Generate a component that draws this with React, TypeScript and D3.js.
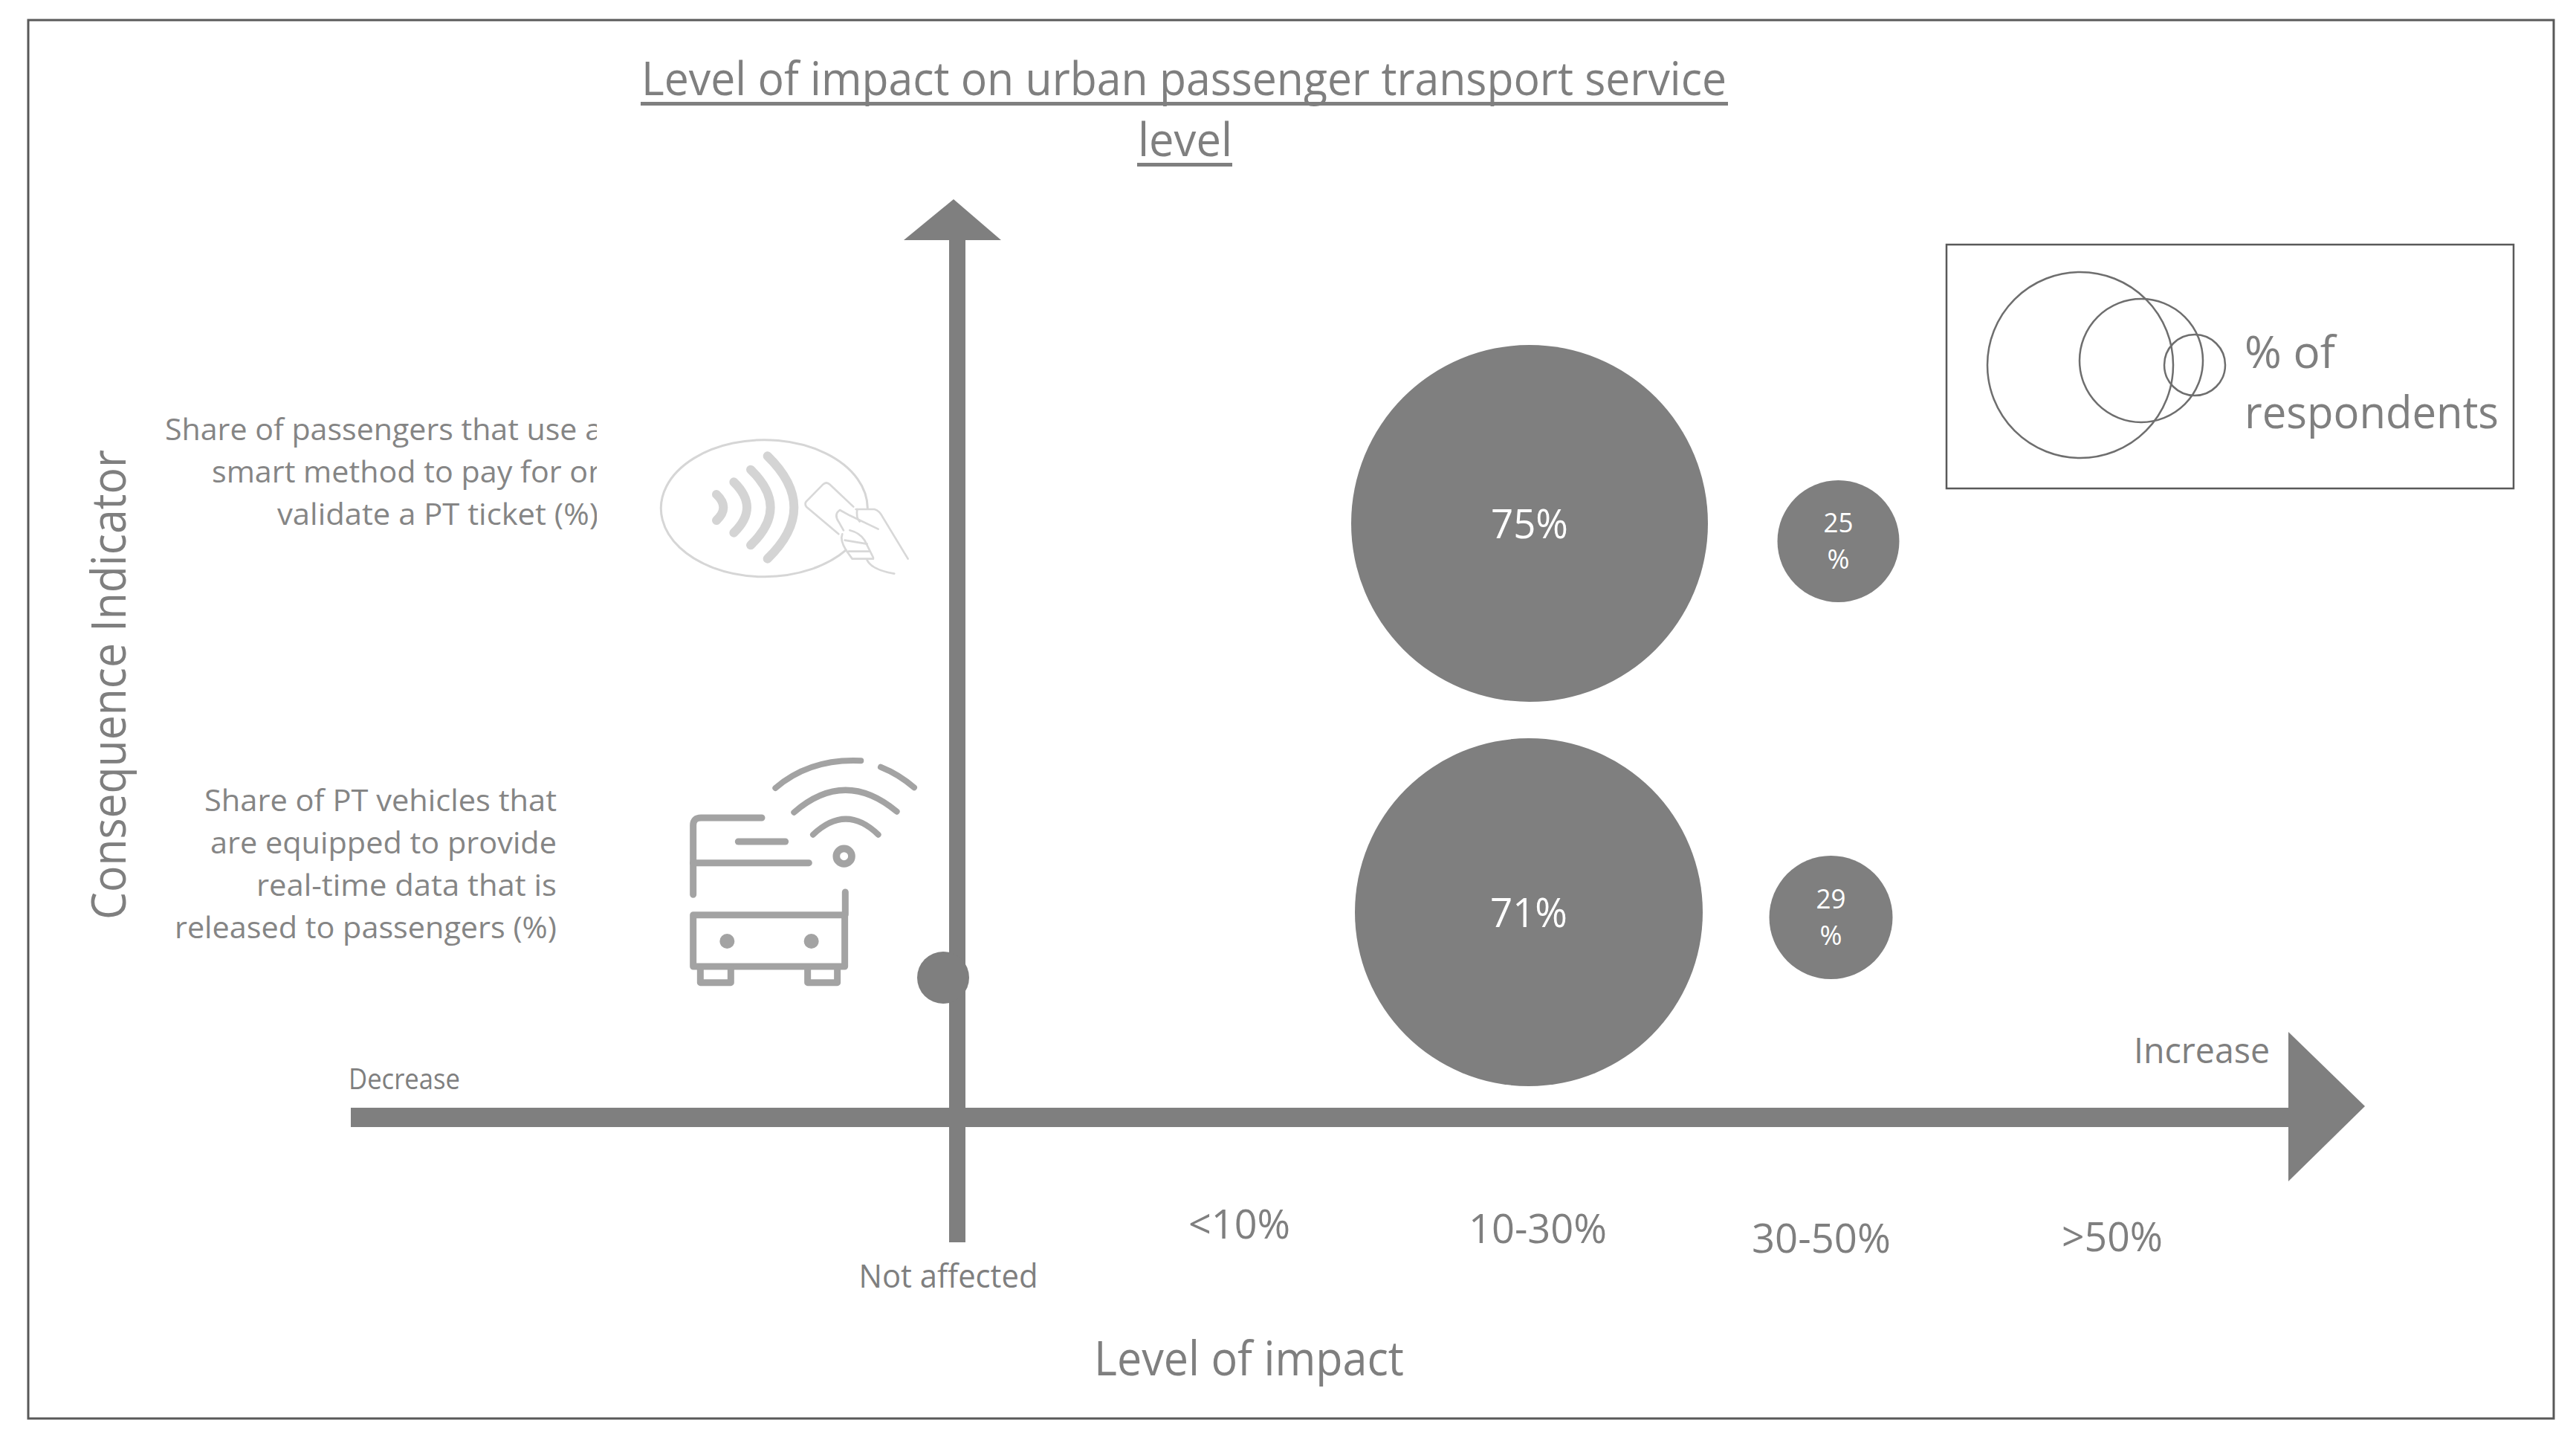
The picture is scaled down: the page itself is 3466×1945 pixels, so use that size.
import React, { useEffect, useRef } from 'react';
import * as d3 from 'd3';

const impactLevels = ['Not affected', '<10%', '10-30%', '30-50%', '>50%'];
const indicators = ['Smart payment', 'Real-time data'];

// share of respondents per impact level, null = no bubble
const smartPaymentShares = [null, null, 75, 25, null];
const realTimeDataShares = [0, null, 71, 29, null];

const smartPaymentLabel = ['Share of passengers that use a', 'smart method to pay for or', 'validate a PT ticket (%)'];
const realTimeDataLabel = ['Share of PT vehicles that', 'are equipped to provide', 'real-time data that is', 'released to passengers (%)'];
const titleLines = ['Level of impact on urban passenger transport service', 'level'];
const legendLines = ['% of', 'respondents'];

const W = 3466;
const H = 1945;
const GREY = '#7f7f7f';
const DARK = '#595959';
const FONT = '"Open Sans", sans-serif';

type Opts = { x: number; y: number; size: number; len?: number; anchor?: string; fill?: string };

function addText(g: any, str: string, o: Opts) {
  const t = g.append('text')
    .attr('x', o.x)
    .attr('y', o.y)
    .attr('font-family', FONT)
    .attr('font-size', o.size)
    .attr('text-anchor', o.anchor || 'start')
    .attr('fill', o.fill || GREY)
    .text(str);
  if (o.len) t.attr('textLength', o.len).attr('lengthAdjust', 'spacingAndGlyphs');
  return t;
}

function strokePaths(g: any, paths: string[], color: string, width: number) {
  g.selectAll(null)
    .data(paths)
    .enter().append('path')
    .attr('d', (d: string) => d)
    .attr('fill', 'none')
    .attr('stroke', color)
    .attr('stroke-width', width)
    .attr('stroke-linecap', 'round')
    .attr('stroke-linejoin', 'round');
}

export default function App() {
  const svgRef = useRef<SVGSVGElement>(null);

  useEffect(() => {
    const svg = d3.select(svgRef.current);
    svg.selectAll('*').remove();

    const x = d3.scalePoint<string>().domain(impactLevels).range([1276, 2842]);
    const y = d3.scalePoint<string>().domain(indicators).range([704, 1227]);
    // bubble sizes in the source are not strictly proportional, so piecewise
    const r = d3.scaleLinear().domain([0, 25, 29, 71, 75]).range([35, 82, 83, 234, 240]);

    svg.append('rect').attr('width', W).attr('height', H).attr('fill', '#fff');

    // outer frame
    svg.append('rect')
      .attr('x', 38).attr('y', 27)
      .attr('width', 3398).attr('height', 1881)
      .attr('fill', 'none').attr('stroke', DARK).attr('stroke-width', 3);

    // title
    addText(svg, titleLines[0], { x: 863, y: 128, size: 62, len: 1460 });
    addText(svg, titleLines[1], { x: 1531, y: 210, size: 62, len: 127 });
    svg.append('rect').attr('x', 862).attr('y', 137).attr('width', 1463).attr('height', 5).attr('fill', GREY);
    svg.append('rect').attr('x', 1530).attr('y', 219).attr('width', 128).attr('height', 5).attr('fill', GREY);

    // axes
    const line = d3.line();
    const arrows = svg.append('g').attr('fill', GREY);
    arrows.append('rect').attr('x', x('Not affected')! + 1).attr('y', 320).attr('width', 22).attr('height', 1351);
    arrows.append('path').attr('d', line([[1216, 323], [1283, 268], [1347, 323]]) + 'Z');
    arrows.append('rect').attr('x', 472).attr('y', 1490).attr('width', 2610).attr('height', 26);
    arrows.append('path').attr('d', line([[3079, 1388], [3182, 1488], [3079, 1589]]) + 'Z');

    // axis labels
    addText(svg, 'Decrease', { x: 469, y: 1465, size: 38, len: 150 });
    addText(svg, 'Increase', { x: 2871, y: 1430, size: 48, len: 183 });
    addText(svg, 'Level of impact', { x: 1472, y: 1850, size: 64, len: 417 });
    addText(svg, 'Consequence Indicator', { x: 0, y: 0, size: 64, len: 632 })
      .attr('transform', 'translate(169,1237) rotate(-90)');

    // tick labels sit at slightly different heights in the source
    const tickBase = [1732, 1666, 1672, 1685, 1683];
    const tickLen = [241, 137, 186, 187, 136];
    impactLevels.forEach((d, i) => {
      addText(svg, d, {
        x: x(d)! + (d === '10-30%' ? 10 : 0),
        y: tickBase[i],
        size: i === 0 ? 44 : 54,
        len: tickLen[i],
        anchor: 'middle',
      });
    });

    // indicator labels, the first box cuts off its right edge in the source
    svg.append('clipPath').attr('id', 'labelClip')
      .append('rect').attr('x', 200).attr('y', 530).attr('width', 603).attr('height', 200);
    const label1 = svg.append('g').attr('clip-path', 'url(#labelClip)');
    const label1Base = [592, 649, 706];
    const label1Left = [222, 285, 373];
    const label1Len = [588, 523, 432];
    smartPaymentLabel.forEach((d, i) => {
      addText(label1, d, { x: label1Left[i], y: label1Base[i], size: 41, len: label1Len[i], fill: '#858585' });
    });
    const label2Base = [1091, 1148, 1205, 1262];
    const label2Left = [275, 283, 345, 235];
    realTimeDataLabel.forEach((d, i) => {
      addText(svg, d, { x: label2Left[i], y: label2Base[i], size: 41, len: 749 - label2Left[i], fill: '#858585' });
    });

    // contactless payment icon, drawn on a 3x grid
    const icon1 = svg.append('g').attr('transform', 'translate(880,570) scale(0.3333)');
    strokePaths(icon1, ['M862,340 A417,276 0 1 0 775,510'], '#d6d6d6', 9);
    strokePaths(icon1, [
      'M252,285 Q308,338 252,390',
      'M322,235 Q428,338 322,440',
      'M390,185 Q550,338 390,490',
      'M458,130 Q672,338 458,545',
    ], '#d4d4d4', 36);
    strokePaths(icon1, [
      'M745,445 L615,335 Q605,322 618,310 L682,245 Q695,232 710,245 L805,335',
      'M905,425 L790,370 L750,348 Q725,365 745,395 L765,430',
      'M815,345 L890,345 Q910,350 925,380 L1025,545',
      'M820,345 Q815,380 830,395',
      'M760,445 Q750,470 775,510 L800,545 L885,545',
      'M790,430 Q830,440 850,470 L885,540',
      'M770,470 L860,485',
      'M785,515 L870,515',
      'M860,550 Q880,590 970,605',
    ], '#d8d8d8', 8);

    // bus with wifi icon
    const icon2 = svg.append('g').attr('transform', 'translate(910,1000) scale(0.3333)');
    strokePaths(icon2, [
      'M400,180 Q540,60 745,70',
      'M825,95 Q900,125 960,178',
      'M475,278 Q680,100 890,275',
      'M552,368 Q685,242 815,368',
    ], '#a3a3a3', 24);
    strokePaths(icon2, [
      'M68,610 L68,330 Q68,300 100,300 L345,300',
      'M250,396 L440,396',
      'M68,482 L535,482',
      'M682,600 L682,690',
      'M68,692 L680,692 L680,900 L68,900 Z',
      'M97,905 L97,965 L220,965 L220,905',
      'M530,905 L530,965 L650,965 L650,905',
    ], '#a3a3a3', 27);
    icon2.append('circle').attr('cx', 677).attr('cy', 455).attr('r', 31)
      .attr('fill', 'none').attr('stroke', '#a3a3a3').attr('stroke-width', 29);
    [205, 545].forEach(cx => {
      icon2.append('circle').attr('cx', cx).attr('cy', 798).attr('r', 30).attr('fill', '#a3a3a3');
    });

    // bubbles
    const rows = [
      { key: indicators[0], shares: smartPaymentShares },
      { key: indicators[1], shares: realTimeDataShares },
    ];
    // the bubbles were placed by hand in the source, offsets from the grid in px
    const nudge: Record<string, [number, number]> = {
      'Smart payment|10-30%': [-1, 0],
      'Smart payment|30-50%': [23, 24],
      'Real-time data|Not affected': [-7, 88],
      'Real-time data|10-30%': [-2, 0],
      'Real-time data|30-50%': [13, 7],
    };
    rows.forEach(row => {
      row.shares.forEach((v, i) => {
        if (v === null) return;
        const level = impactLevels[i];
        const [dx, dy] = nudge[`${row.key}|${level}`];
        const cx = x(level)! + dx;
        const cy = y(row.key)! + dy;
        svg.append('circle').attr('cx', cx).attr('cy', cy).attr('r', r(v)).attr('fill', GREY);
        if (v === 0) return;
        if (v > 50) {
          addText(svg, `${v}%`, { x: cx, y: cy + 20, size: 54, len: 104, anchor: 'middle', fill: '#fff' });
        } else {
          // narrow bubble, the % wraps to a second line
          addText(svg, `${v}`, { x: cx, y: cy - 12, size: 37, len: 40, anchor: 'middle', fill: '#fff' });
          addText(svg, '%', { x: cx, y: cy + 37, size: 37, len: 30, anchor: 'middle', fill: '#fff' });
        }
      });
    });

    // legend
    const legend = svg.append('g');
    legend.append('rect')
      .attr('x', 2619).attr('y', 329).attr('width', 763).attr('height', 328)
      .attr('fill', 'none').attr('stroke', DARK).attr('stroke-width', 2.5);
    const legendCircles: [number, number, number][] = [[2799, 491, 125], [2881, 485, 83], [2953, 491, 41]];
    legend.selectAll('circle')
      .data(legendCircles)
      .enter().append('circle')
      .attr('cx', d => d[0])
      .attr('cy', d => d[1])
      .attr('r', d => d[2])
      .attr('fill', 'none')
      .attr('stroke', '#6e6e6e')
      .attr('stroke-width', 2.5);
    addText(legend, legendLines[0], { x: 3020, y: 495, size: 60, len: 122 });
    addText(legend, legendLines[1], { x: 3020, y: 576, size: 60, len: 342 });
  }, []);

  return (
    <svg
      ref={svgRef}
      width={W}
      height={H}
      viewBox={`0 0 ${W} ${H}`}
      style={{ position: 'absolute', left: 0, top: 0, display: 'block' }}
    />
  );
}
